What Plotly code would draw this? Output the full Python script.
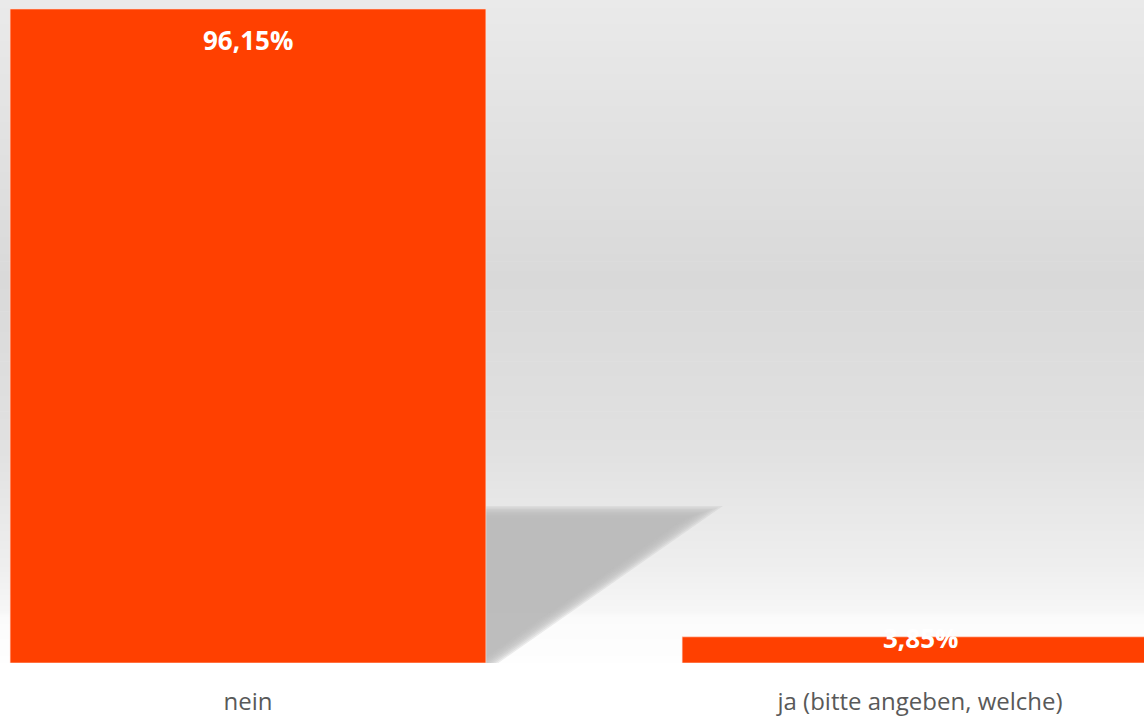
import math
import plotly.graph_objects as go

# Survey answers and their shares (percent)
categories = ["nein", "ja (bitte angeben, welche)"]
values = [96.15, 3.85]
value_labels = ["96,15%", "3,85%"]

BAR_COLOR = "#FF4000"
W, H = 1144, 716
MARGIN_B = 53
BAR_WIDTH = 0.708
X_RANGE = [-0.369, 1.3333]
Y_RANGE = [0, 97.47]

plot_h = H - MARGIN_B
px_per_x = W / (X_RANGE[1] - X_RANGE[0])
px_per_y = plot_h / (Y_RANGE[1] - Y_RANGE[0])


def to_data(px, py):
    """Convert pixel position (from top-left of figure) to data coordinates."""
    return X_RANGE[0] + px / px_per_x, Y_RANGE[0] + (plot_h - py) / px_per_y


def to_px(x, y):
    return (x - X_RANGE[0]) * px_per_x, plot_h - (y - Y_RANGE[0]) * px_per_y


fig = go.Figure()

fig.add_trace(go.Bar(
    x=[0, 1],
    y=values,
    width=BAR_WIDTH,
    marker=dict(color=BAR_COLOR, line=dict(color="rgba(255,225,215,0.6)", width=1)),
    hoverinfo="skip",
    cliponaxis=True,
))

# Background: vertical grey gradient built from thin overlapping strips
stops = [(0.0, 234), (0.42, 217), (0.68, 225), (0.86, 239), (0.925, 247), (0.93, 251), (1.0, 254)]


def grey_at(t):
    for (t0, g0), (t1, g1) in zip(stops, stops[1:]):
        if t0 <= t <= t1:
            f = 0 if t1 == t0 else (t - t0) / (t1 - t0)
            return g0 + (g1 - g0) * f
    return stops[-1][1]


shapes = []
n = 358
for i in range(n):
    top = 1 - i / n
    bot = max(0, 1 - (i + 1) / n - 0.8 / H)
    g = int(round(grey_at((i + 0.5) / n)))
    shapes.append(dict(type="rect", xref="paper", yref="paper", x0=0, x1=1,
                       y0=bot, y1=top, fillcolor=f"rgb({g},{g},{g})",
                       line=dict(width=0), layer="below"))

# Cast shadow behind the first bar, softened with stacked translucent copies
edge_px, base_py = to_px(BAR_WIDTH / 2, 0)
_, top_py = to_px(0, values[0] * 0.231)
tip_px = edge_px + 218
bx, by = tip_px, top_py
vx, vy = (edge_px + 2) - bx, base_py - by
norm = math.hypot(vx, vy)
nx, ny = -vy / norm, vx / norm
if nx < 0:
    nx, ny = -nx, -ny

for d in [6, 4.5, 3, 1.5, 0, -1.5, -3, -4.5, -6]:
    ty = top_py - d
    tx = bx + (d - (ty - by) * ny) / nx
    low_y = base_py + 20
    lx = bx + (d - (low_y - by) * ny) / nx
    pts = [(edge_px - 5, ty), (tx, ty), (lx, low_y), (edge_px - 5, low_y)]
    dpts = [to_data(px, py) for px, py in pts]
    path = "M " + " L ".join(f"{x:.5f},{y:.4f}" for x, y in dpts) + " Z"
    shapes.append(dict(type="path", xref="x", yref="y", path=path,
                       fillcolor="#b9b9b9", opacity=0.26, line=dict(width=0), layer="below"))

label_font = dict(family="Open Sans", size=26, color="white", weight="bold")
annotations = [
    dict(x=0, y=values[0], text=value_labels[0], showarrow=False, yshift=-31, font=label_font),
    dict(x=1, y=values[1], text=value_labels[1], showarrow=False, yshift=-1, font=label_font),
]

fig.update_layout(
    width=W, height=H,
    margin=dict(l=0, r=0, t=0, b=MARGIN_B),
    paper_bgcolor="white",
    plot_bgcolor="rgba(0,0,0,0)",
    shapes=shapes,
    annotations=annotations,
    showlegend=False,
    xaxis=dict(
        range=X_RANGE,
        tickmode="array", tickvals=[0, 1], ticktext=categories,
        showgrid=False, zeroline=False, showline=False, ticks="",
        ticklabelstandoff=22,
        tickfont=dict(family="Open Sans", size=24, color="#595959"),
        fixedrange=True,
    ),
    yaxis=dict(
        range=Y_RANGE,
        showticklabels=False, showgrid=False, zeroline=False, showline=False,
        fixedrange=True,
    ),
)

fig.write_html("out.html", config={"displayModeBar": False})
